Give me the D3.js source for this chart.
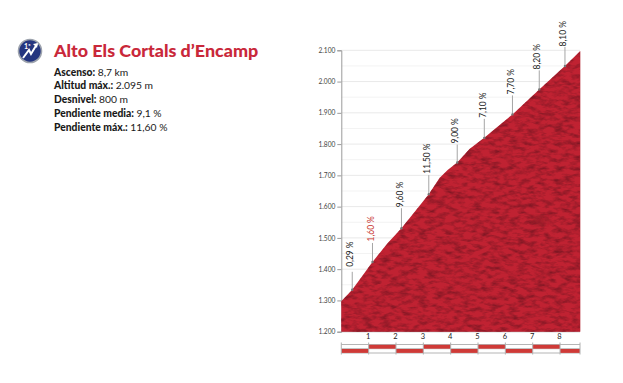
<!DOCTYPE html>
<html><head><meta charset="utf-8">
<script src="https://cdn.jsdelivr.net/npm/d3@7"></script>
<style>html,body{margin:0;padding:0;background:#fff}svg{display:block}text{font-family:Lato,"Open Sans",sans-serif}</style>
</head><body><div id="c"></div>
<script>
const title = "Alto Els Cortals d\u2019Encamp";
const infoLabels = ["Ascenso:", "Altitud máx.:", "Desnivel:", "Pendiente media:", "Pendiente máx.:"];
const infoValues = ["8,7 km", "2.095 m", "800 m", "9,1 %", "11,60 %"];
const profileKm = [0, 0.4, 1.14, 1.7, 2.2, 3.2, 3.6, 3.9, 4.24, 4.7, 5.23, 6.26, 7.24, 8.18, 8.73];
const profileElev = [1297, 1334, 1423, 1484, 1531, 1640, 1692, 1718, 1741, 1785, 1820, 1895, 1975, 2050, 2097];
const markKm = [0.4, 1.14, 2.2, 3.2, 4.24, 5.23, 6.26, 7.24, 8.18];
const markElev = [1334, 1423, 1531, 1640, 1741, 1820, 1895, 1975, 2050];
const markLabels = ["0,29 %", "1,60 %", "9,60 %", "11,50 %", "9,00 %", "7,10 %", "7,70 %", "8,20 %", "8,10 %"];
const markColors = ["#222", "#c8322c", "#222", "#222", "#222", "#222", "#222", "#222", "#222"];
const yTicks = [1200, 1300, 1400, 1500, 1600, 1700, 1800, 1900, 2000, 2100];
const yMinor = [1250, 1350, 1450, 1550, 1650, 1750, 1850, 1950, 2050];
const xTicks = [1, 2, 3, 4, 5, 6, 7, 8];

const svg = d3.select("#c").append("svg").attr("width", 623).attr("height", 383);
const x = d3.scaleLinear().domain([0, 8.73]).range([341.3, 580]);
const y = d3.scaleLinear().domain([1200, 2100]).range([331.7, 50.3]);

const defs = svg.append("defs");
const f = defs.append("filter").attr("id", "tex").attr("x", 0).attr("y", 0).attr("width", 1).attr("height", 1)
  .attr("color-interpolation-filters", "sRGB");
f.append("feTurbulence").attr("type", "fractalNoise").attr("baseFrequency", "0.11 0.24").attr("numOctaves", 3).attr("seed", 7).attr("result", "n");
f.append("feColorMatrix").attr("in", "n").attr("type", "matrix")
  .attr("values", "0 0 0 0 0.50  0 0 0 0 0.09  0 0 0 0 0.14  2.2 0 0 0 -0.9").attr("result", "d");
f.append("feComposite").attr("in", "d").attr("in2", "SourceGraphic").attr("operator", "in").attr("result", "dc");
f.append("feMerge").call(m => { m.append("feMergeNode").attr("in", "SourceGraphic"); m.append("feMergeNode").attr("in", "dc"); });
defs.append("filter").attr("id", "blur").append("feGaussianBlur").attr("stdDeviation", 3);

// Grid
svg.append("g").selectAll("line").data(yMinor).join("line")
  .attr("x1", x(0)).attr("x2", x(8.73)).attr("y1", d => y(d)).attr("y2", d => y(d)).attr("stroke", "#f3f3f3");
svg.append("g").selectAll("line").data(yTicks.slice(1)).join("line")
  .attr("x1", x(0)).attr("x2", x(8.73)).attr("y1", d => y(d)).attr("y2", d => y(d)).attr("stroke", "#e9e9e9");

// Axes
const fmt = d => d3.format(",")(d).replace(",", ".");
const gy = svg.append("g").attr("transform", `translate(${x(0)},0)`)
  .call(d3.axisLeft(y).tickValues(yTicks).tickFormat(fmt).tickSize(4).tickPadding(2));
gy.selectAll("line,path").attr("stroke", "#9a9a9a");
gy.selectAll("text").attr("font-size", 6.6).attr("fill", "#444");
const gx = svg.append("g").attr("transform", `translate(0,${y(1200)})`)
  .call(d3.axisBottom(x).tickValues(xTicks).tickSize(0).tickPadding(2).tickFormat(d3.format("d")));
gx.select("path").attr("stroke", "#9a9a9a").attr("d", `M${x(0)},0H${x(8.73)}`);
gx.selectAll("text").attr("font-size", 7.5).attr("fill", "#222").attr("dx", -1);

// Profile
const area = d3.area().x((d, i) => x(profileKm[i])).y0(y(1200)).y1(d => y(d));
svg.append("path").datum(profileElev).attr("d", area).attr("fill", "#c02232").attr("filter", "url(#tex)");
svg.append("line").attr("x1", x(8.73)+0.5).attr("x2", x(8.73)+0.5).attr("y1", y(2097)).attr("y2", y(1200)).attr("stroke", "#e7b9bd");
svg.append("ellipse").attr("cx", x(7.26)).attr("cy", y(1555)).attr("rx", 7).attr("ry", 5).attr("fill", "#8f1c28").attr("opacity", .7).attr("filter", "url(#blur)");

// Markers
const stemLen = [18, 19, 20, 19, 18, 19, 19, 19, 19];
const labelGap = [5, 1.5, 1, 1.5, 1, 1, 1, 1, 0.5];
const marks = svg.append("g").selectAll("g").data(markKm).join("g");
marks.append("line").attr("x1", d => x(d)).attr("x2", d => x(d))
  .attr("y1", (d, i) => y(markElev[i])).attr("y2", (d, i) => y(markElev[i]) - stemLen[i])
  .attr("stroke", "#a5a5a5").attr("stroke-width", 1);
marks.append("circle").attr("cx", d => x(d)).attr("cy", (d, i) => y(markElev[i])).attr("r", 1.2).attr("fill", "#777");
marks.append("text")
  .attr("transform", (d, i) => `translate(${x(d) + 1.2},${y(markElev[i]) - stemLen[i] - labelGap[i]}) rotate(-90) scale(0.93,1)`)
  .attr("font-size", 9).attr("fill", (d, i) => markColors[i]).text((d, i) => markLabels[i]);

// Distance bar
const segs = d3.range(0, 9);
const barTop = 344.5, barMid = 348.7, barBot = 353;
const bar = svg.append("g");
[barTop, barMid, barBot].forEach(v => bar.append("line").attr("x1", x(0)).attr("x2", x(8.73)).attr("y1", v).attr("y2", v).attr("stroke", "#b5b5b5"));
bar.selectAll("rect").data(segs).join("rect")
  .attr("x", d => x(d)).attr("width", d => x(Math.min(d + 1, 8.73)) - x(d))
  .attr("y", d => d % 2 ? barTop + .3 : barMid + .3).attr("height", 3.9).attr("fill", "#cf3a37");
bar.selectAll("line.v").data([0, ...xTicks, 8.73]).join("line").attr("class", "v")
  .attr("x1", d => x(d)).attr("x2", d => x(d)).attr("y1", 342.5).attr("y2", 354.5).attr("stroke", "#b0b0b0");

// Header
svg.append("text").attr("x", 54).attr("y", 57).attr("font-size", 17.9).attr("font-weight", 900).attr("fill", "#c9283a").text(title);
const info = svg.append("g").selectAll("text").data(infoLabels).join("text")
  .attr("x", 54).attr("y", (d, i) => 75.5 + i * 13.9).attr("font-size", 10.3).attr("fill", "#1a1a1a");
info.append("tspan").attr("font-weight", 900).text(d => d + " ");
info.append("tspan").text((d, i) => infoValues[i]);

// Badge
const b = svg.append("g").attr("transform", "translate(30,51)");
b.append("circle").attr("r", 11.5).attr("fill", "#24357f").attr("stroke", "#9da3ad").attr("stroke-width", 1.6);
b.append("path").attr("d", "M-7,7 L-1,-1 L1,3 L7,-7").attr("fill", "none").attr("stroke", "#fff").attr("stroke-width", 2);
b.append("path").attr("d", "M3,-7 L8,-8 L7,-3 Z").attr("fill", "#fff");
b.append("text").attr("x", -6).attr("y", -2).attr("font-size", 7).attr("font-weight", 700).attr("fill", "#fff").text("1ª");
</script></body></html>
